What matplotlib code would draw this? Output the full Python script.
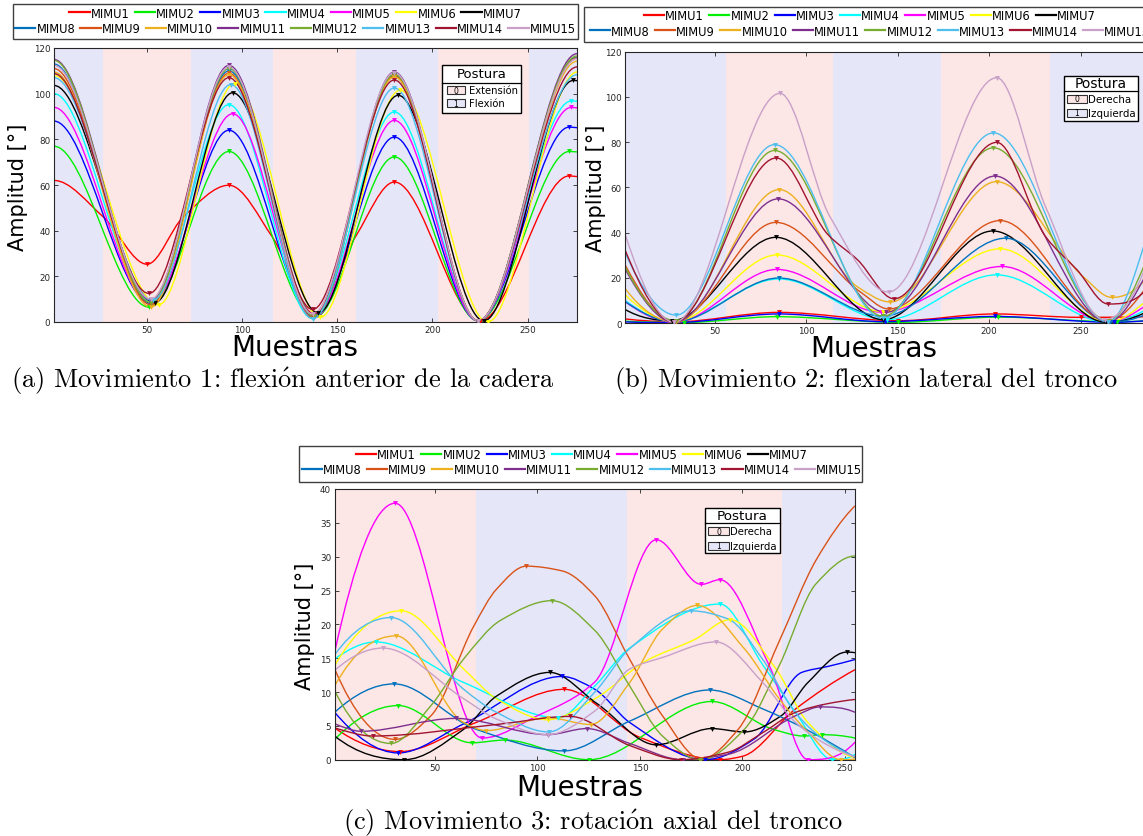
import numpy as np
import matplotlib
matplotlib.use("Agg")
import matplotlib.pyplot as plt
from matplotlib.path import Path
from matplotlib.patches import PathPatch, Rectangle
from matplotlib.lines import Line2D

plt.rcParams["mathtext.fontset"] = "cm"

W, H = 1143, 837

names = ["MIMU%d" % i for i in range(1, 16)]
colors = ["#FF0000", "#00F000", "#0000FF", "#00FFFF", "#FF00FF", "#FFFF00", "#000000",
          "#0072BD", "#D95319", "#EDB120", "#7E2F8E", "#77AC30", "#4DBEEE", "#A2142F", "#C8A0C8"]
band_colors = {0: "#FCE6E6", 1: "#E6E6F9"}

# ---- Movimiento 1: flexion anterior de la cadera (peaks / valleys per MIMU) ----
a_x = [
    [1, 27, 50, 69, 93, 116, 138, 160, 180, 225, 272, 276],
    [1, 51, 93, 138, 180, 224, 272, 276],
    [1, 52, 93, 138, 180, 224, 272, 276],
    [1, 52, 93, 137, 180, 224, 273, 276],
    [1, 52, 95, 138, 180, 224, 273, 276],
    [1, 56, 96, 141, 183, 229, 276],
    [1, 54, 95, 140, 182, 227, 274, 276],
    [1, 52, 93, 138, 180, 224, 276],
    [1, 52, 93, 137, 180, 224, 276],
    [1, 52, 93, 138, 180, 224, 276],
    [1, 52, 93, 138, 180, 224, 276],
    [1, 52, 93, 138, 180, 224, 276],
    [1, 53, 94, 137, 180, 224, 276],
    [1, 51, 93, 137, 180, 224, 276],
    [1, 52, 93, 137, 180, 224, 276],
]
a_y = [
    [62, 46, 25.3, 46, 59.9, 37, 3.5, 38, 61.3, 0.5, 64, 63.7],
    [77, 6.5, 74.7, 2, 72.3, 0.5, 74.7, 74.5],
    [88, 8, 84, 2.5, 81, 0.5, 85.4, 85.1],
    [100, 9, 95.2, 1.5, 92, 0.5, 96.8, 96.7],
    [94, 8, 91.2, 2, 88.3, 0.5, 94, 93.8],
    [108, 7.5, 104.4, 2, 101.5, 0, 109.5],
    [103.6, 8.5, 100.4, 4, 99.3, 0.5, 105.8, 105.7],
    [113, 8, 110, 2, 108, 0.5, 116],
    [111, 7.5, 109, 2, 107.7, 0.5, 115.6],
    [109.5, 6.5, 108.3, 2.5, 107.3, 0.5, 114.2],
    [115, 9.5, 112.4, 3, 109.5, 0.5, 117.5],
    [114.6, 8.5, 111, 2.5, 108.5, 0.5, 116.5],
    [107, 9.5, 104, 1.5, 102.5, 0.5, 108.3],
    [108.8, 12.5, 107, 5.5, 106, 0.5, 111.7],
    [112.4, 10, 111.7, 3.5, 109.2, 0.5, 115.3],
]
a_edges = [1, 27, 73, 116, 160, 203, 251, 276]
a_states = [1, 0, 1, 0, 1, 0, 1]

# ---- Movimiento 2: flexion lateral del tronco ----
b_x = [
    [1, 28, 85, 150, 203, 250, 286],
    [1, 33, 84, 150, 205, 270, 286],
    [1, 28, 85, 143, 203, 268, 286],
    [1, 27, 85, 144, 204, 265, 286],
    [1, 28, 84, 141, 207, 265, 286],
    [1, 28, 84, 142, 206, 265, 286],
    [1, 26.5, 83.4, 142, 202, 264, 286],
    [1, 28, 85, 142, 209, 266, 286],
    [1, 28, 83.4, 130, 145, 206, 265, 286],
    [1, 29, 85.3, 128, 146, 204, 252, 267, 286],
    [1, 28, 84.7, 143.6, 203.2, 265, 286],
    [1, 29, 82.7, 142, 202.3, 265, 286],
    [1, 29, 82.7, 142, 202.3, 265, 286],
    [1, 28, 83.7, 112, 128, 148, 204.1, 231, 248, 265, 286],
    [1, 28, 85.7, 113, 145, 204.1, 231, 263, 286],
]
b_y = [
    [1.8, 0.5, 4.7, 1.0, 4.0, 2.5, 2.8],
    [0.8, 0.2, 2.8, 0.3, 2.6, 0.5, 1.0],
    [0.5, 0.2, 4.0, 0.6, 2.9, 0.3, 1.0],
    [10, 0.5, 19.5, 1.5, 21.3, 0.3, 6],
    [9.5, 0.3, 23.7, 4.8, 25, 0.5, 8],
    [12.5, 0.5, 30.1, 5, 32.8, 0.5, 10],
    [6, 1, 37.9, 1.5, 40.7, 0.3, 5],
    [9.5, 0.5, 19.9, 3, 37.5, 0.5, 4],
    [25.8, 0.5, 44.5, 13.5, 6.2, 45.3, 1, 16],
    [15.3, 0.3, 59, 16, 9.3, 62.5, 20, 11.3, 20],
    [24, 0.3, 54.9, 4.7, 65, 0.5, 22],
    [25, 1, 76.3, 3, 77.5, 1, 28],
    [31.3, 3.5, 78.9, 2, 84.1, 0.5, 38],
    [32.4, 0.5, 73, 39, 28, 10.7, 79.9, 38, 23.5, 8.4, 15],
    [39.4, 0.3, 101.6, 47, 13.7, 108.5, 51, 1.5, 26],
]
b_edges = [1, 56.3, 114.8, 173.6, 233.3, 286]
b_states = [1, 0, 1, 0, 1]

# ---- Movimiento 3: rotacion axial del tronco ----
c_x = [
    [1, 33, 70, 113, 150, 189, 200, 226, 255],
    [1, 32, 68, 84, 125, 185, 215, 230, 239, 255],
    [1, 32, 64, 112, 128, 145, 182, 206, 229, 242, 255],
    [1, 21, 64, 110, 128, 145, 189, 210, 226, 244, 255],
    [1, 30.5, 73, 100, 128, 158, 180, 189, 213, 232, 255],
    [1, 33.5, 64, 80, 105, 128, 153, 177, 194, 216, 232, 255],
    [1, 35, 64, 80, 106, 129, 158, 185, 201, 219, 232, 251, 255],
    [1, 30, 70, 113, 145, 184, 210, 255],
    [1, 30.5, 48, 69, 80, 94.5, 112, 128, 144, 161, 180, 198, 218, 236, 255],
    [1, 31, 64, 75, 105, 126, 145, 161, 178, 201, 218, 232, 248, 255],
    [1, 14, 60, 105, 124, 145, 171, 193, 226, 238, 255],
    [1, 28.5, 48, 64, 82, 107, 128, 145, 161, 179.5, 201, 218, 236, 255],
    [1, 28.5, 64, 80, 105.5, 128, 145, 175, 193, 210, 226, 242, 255],
    [1, 19.5, 80, 116, 145, 170, 193, 210, 226, 242, 255],
    [1, 24.5, 64, 80, 105, 128, 145, 161, 187, 210, 226, 242, 255],
]
c_y = [
    [4.7, 1.2, 5.5, 10.4, 3.3, 0, 0.5, 7.5, 13.3],
    [3.0, 8.0, 2.5, 2.9, 0, 8.6, 4.5, 3.5, 3.7, 3.2],
    [7.0, 1.0, 5.3, 12.3, 10.4, 5.5, 0, 3.1, 12.9, 13.8, 14.8],
    [14.9, 17.4, 11.4, 6.2, 10.9, 16.5, 23.0, 14, 7, 0, 0.8],
    [15.9, 37.9, 3.2, 6.5, 11.5, 32.5, 25.9, 26.6, 14, 0, 2.6],
    [13.9, 22.0, 13.4, 9.0, 5.9, 9.0, 14.6, 17.8, 20.7, 13.6, 5.5, 0.3],
    [3.5, 0, 4.5, 9.4, 12.9, 8.3, 2.2, 4.6, 4.1, 6.5, 11.4, 15.9, 15.8],
    [7.0, 11.2, 4.5, 1.3, 5.7, 10.3, 7.5, 0.3],
    [13.4, 3.0, 6.5, 19.8, 25.2, 28.6, 27.9, 24.2, 15.4, 6.5, 0.1, 4.5, 17.5, 29.5, 37.5],
    [10.9, 18.3, 5.5, 4.3, 6.2, 5.2, 11.4, 19.3, 22.8, 16.4, 9.0, 4.1, 0, 0.1],
    [5.3, 4.2, 6.1, 3.7, 4.6, 2.4, 0, 0.8, 6.5, 7.8, 7.0],
    [10.2, 2.4, 8.0, 14.9, 20.6, 23.5, 19.1, 10.9, 3.5, 0, 4.5, 13.9, 26.0, 30.1],
    [15.5, 21.0, 10.4, 7.0, 4.1, 10.0, 16.4, 22.0, 20.8, 14.8, 6.9, 2.5, 0.5],
    [4.7, 3.5, 5.2, 6.4, 2.1, 0, 1.1, 4.0, 7.0, 8.3, 8.9],
    [13.2, 16.5, 9.0, 6.0, 3.7, 7.2, 13.4, 15.1, 17.4, 11.4, 5.5, 2.1, 0.4],
]
c_edges = [1, 69.8, 143.8, 219.3, 255]
c_states = [0, 1, 0, 1]

fig = plt.figure(figsize=(W / 100, H / 100), dpi=100)


def fx(px):
    return px / W


def fy(py):
    return 1 - py / H


def end_slope(h0, h1, d0, d1):
    m = ((2 * h0 + h1) * d0 - h0 * d1) / (h0 + h1)
    if np.sign(m) != np.sign(d0):
        return 0.0
    if np.sign(d0) != np.sign(d1) and abs(m) > abs(3 * d0):
        return 3 * d0
    return m


def pchip_slopes(x, y, flat_ends):
    h = np.diff(x)
    d = np.diff(y) / h
    m = np.zeros_like(y)
    for k in range(1, len(x) - 1):
        if d[k - 1] * d[k] > 0:
            w1 = 2 * h[k] + h[k - 1]
            w2 = h[k] + 2 * h[k - 1]
            m[k] = (w1 + w2) / (w1 / d[k - 1] + w2 / d[k])
    if not flat_ends:
        m[0] = end_slope(h[0], h[1], d[0], d[1])
        m[-1] = end_slope(h[-1], h[-2], d[-1], d[-2])
    return m


def draw_panel(box, kx, ky, xlim, ylim, yticks, edges, states, flat_ends):
    left, top, right, bottom = box
    ax = fig.add_axes([fx(left), fy(bottom), (right - left) / W, (bottom - top) / H])
    for x0, x1, s in zip(edges[:-1], edges[1:], states):
        ax.axvspan(x0, x1, color=band_colors[s], lw=0, zorder=0)
    for xs, ys, c in zip(kx, ky, colors):
        xs = np.asarray(xs, float)
        ys = np.asarray(ys, float)
        m = pchip_slopes(xs, ys, flat_ends)
        verts, codes = [(xs[0], ys[0])], [Path.MOVETO]
        for k in range(len(xs) - 1):
            dx = (xs[k + 1] - xs[k]) / 3
            verts += [(xs[k] + dx, ys[k] + m[k] * dx),
                      (xs[k + 1] - dx, ys[k + 1] - m[k + 1] * dx),
                      (xs[k + 1], ys[k + 1])]
            codes += [Path.CURVE4] * 3
        ax.add_patch(PathPatch(Path(verts, codes), fill=False, edgecolor=c, lw=1.0, zorder=2))
        ext = [k for k in range(1, len(xs) - 1) if (ys[k] - ys[k - 1]) * (ys[k + 1] - ys[k]) < 0]
        ax.plot(xs[ext], ys[ext], "v", color=c, ms=3.5, mew=0, zorder=3)
    ax.set_xlim(xlim)
    ax.set_ylim(ylim)
    ax.set_xticks([50, 100, 150, 200, 250])
    ax.set_yticks(yticks)
    ax.tick_params(direction="in", top=True, right=True, length=3, width=0.6,
                   labelsize=6.3, color="#262626", labelcolor="#262626", pad=2.5)
    for sp in ax.spines.values():
        sp.set_color("#262626")
        sp.set_linewidth(0.8)
    return ax


def mimu_legend(left, top, right, bottom, row1_y, row2_y, cx):
    fig.add_artist(Rectangle((fx(left), fy(bottom)), (right - left) / W, (bottom - top) / H,
                             transform=fig.transFigure, facecolor="white",
                             edgecolor="#404040", lw=1.0, zorder=1))
    handles = [Line2D([], [], color=c, lw=1.6) for c in colors]
    for idx, ry in ((range(0, 7), row1_y), (range(7, 15), row2_y)):
        leg = fig.legend([handles[i] for i in idx], [names[i] for i in idx],
                         loc="center", bbox_to_anchor=(fx(cx), fy(ry)), ncol=len(idx),
                         frameon=False, fontsize=8.3, handlelength=1.75, handletextpad=0.1,
                         columnspacing=0.45, borderpad=0, borderaxespad=0)
        leg.set_zorder(2)


def postura(left, top, width, height, div, rows, sw, txt_x, labels, title_fs, item_fs):
    fig.add_artist(Rectangle((fx(left), fy(top + height)), width / W, height / H,
                             transform=fig.transFigure, facecolor="white",
                             edgecolor="black", lw=1.0, zorder=5))
    fig.add_artist(Line2D([fx(left), fx(left + width)], [fy(div), fy(div)],
                          transform=fig.transFigure, color="black", lw=0.9, zorder=6))
    fig.text(fx(left + width / 2), fy((top + div) / 2), "Postura", ha="center", va="center",
             fontsize=title_fs, zorder=7)
    for code, (ry, lab) in enumerate(zip(rows, labels)):
        fig.add_artist(Rectangle((fx(sw[0]), fy(ry + 4)), (sw[1] - sw[0]) / W, 8 / H,
                                 transform=fig.transFigure, facecolor=band_colors[code],
                                 edgecolor="#303030", lw=0.8, zorder=6))
        fig.text(fx((sw[0] + sw[1]) / 2), fy(ry), str(code), ha="center", va="center",
                 fontsize=5.5, zorder=7)
        fig.text(fx(txt_x), fy(ry), lab, ha="left", va="center", fontsize=item_fs, zorder=7)


cap_font = ["cmr10", "DejaVu Serif"]

# (a)
draw_panel((53.9, 49, 577, 323), a_x, a_y, (1, 276), (0, 120), range(0, 121, 20),
           a_edges, a_states, True)
mimu_legend(13, 5, 578, 39.5, 14, 29.3, 295.5)
postura(441.7, 66, 79.3, 48, 84, (91.3, 104.3), (446.7, 465), 468.5,
        ("Extensión", "Flexión"), 9.5, 7.2)
fig.text(fx(18.5), fy(187), "Amplitud [°]", rotation=90, ha="center", va="center", fontsize=15)
fig.text(fx(295), fy(348), "Muestras", ha="center", va="center", fontsize=20)
fig.text(fx(283), fy(381), r"(a) Movimiento 1: flexi$\acute{\mathrm{o}}$n anterior de la cadera",
         ha="center", va="center", fontsize=19, family=cap_font)

# (b)
draw_panel((625, 52.7, 1146.6, 324), b_x, b_y, (1, 286), (0, 120), range(0, 121, 20),
           b_edges, b_states, False)
mimu_legend(584, 8.3, 1150, 42.7, 16.5, 32, 870)
postura(1064, 76.7, 74.3, 45, 92.3, (100, 114), (1067, 1087), 1088,
        ("Derecha", "Izquierda"), 10, 7.4)
fig.text(fx(596), fy(188), "Amplitud [°]", rotation=90, ha="center", va="center", fontsize=15)
fig.text(fx(874), fy(349), "Muestras", ha="center", va="center", fontsize=20)
fig.text(fx(866), fy(381), r"(b) Movimiento 2: flexi$\acute{\mathrm{o}}$n lateral del tronco",
         ha="center", va="center", fontsize=19, family=cap_font)

# (c)
draw_panel((334.7, 490, 855, 760.7), c_x, c_y, (1, 255), (0, 40), range(0, 41, 5),
           c_edges, c_states, False)
mimu_legend(299, 447.3, 862, 482.7, 456, 471, 582)
postura(705, 509.3, 75, 44.7, 524, (532.3, 546.7), (708, 729), 730,
        ("Derecha", "Izquierda"), 9.7, 7.3)
fig.text(fx(305), fy(626), "Amplitud [°]", rotation=90, ha="center", va="center", fontsize=15)
fig.text(fx(580), fy(788), "Muestras", ha="center", va="center", fontsize=20)
fig.text(fx(593), fy(823), r"(c) Movimiento 3: rotaci$\acute{\mathrm{o}}$n axial del tronco",
         ha="center", va="center", fontsize=19, family=cap_font)

fig.savefig("out.png", dpi=100)
